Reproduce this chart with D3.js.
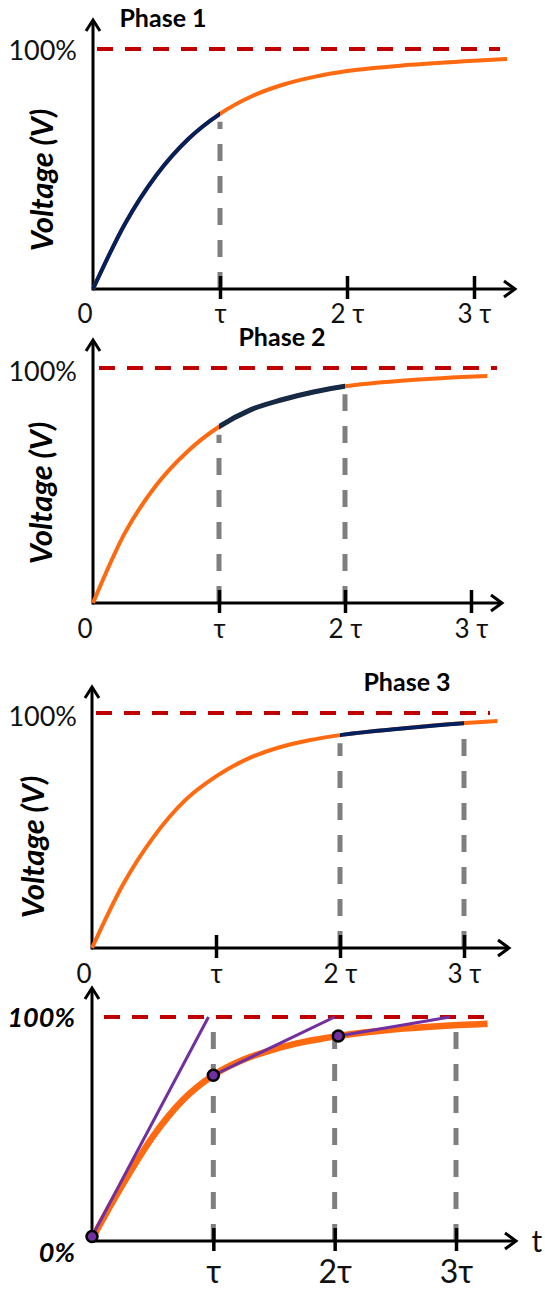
<!DOCTYPE html>
<html>
<head>
<meta charset="utf-8">
<script src="https://cdn.jsdelivr.net/npm/d3@7"></script>
<style>
  body { margin: 0; background: #fff; }
  svg { display: block; }
</style>
</head>
<body>
<div id="chart-area"></div>
<script>
// Charging curve readings: [time in tau, voltage in % of full]
const curve1 = [[0, 0], [0.25, 27], [0.5, 47.5], [0.75, 62.5], [1, 73], [1.25, 80.3], [1.5, 85.2],
  [1.75, 88.5], [2, 90.8], [2.5, 93.4], [3, 95.1], [3.26, 95.8]]
const curve2 = [[0, 0], [0.25, 29.5], [0.5, 50], [0.75, 64.5], [1, 75], [1.25, 82.2], [1.5, 86.5],
  [1.75, 89.8], [2, 92.2], [2.5, 94.8], [3.13, 96.6]]
const curve3 = [[0, 0], [0.25, 27], [0.5, 47.5], [0.75, 62.8], [1, 73], [1.25, 80.4], [1.5, 85.2],
  [1.75, 88.4], [2.03, 90.8], [2.5, 93.4], [3.01, 95.7], [3.27, 96.6]]
const curve4 = [[0, 1], [0.25, 25], [0.5, 46.5], [0.75, 63], [1, 74], [1.25, 81], [1.5, 85.6],
  [1.75, 88.9], [2.03, 91.5], [2.5, 94.5], [3.26, 97]]

// highlighted phase of each panel (start, end in tau)
const highlight1 = [0, 1]
const highlight2 = [1, 2]
const highlight3 = [2, 3]
const phaseNames = ["Phase 1", "Phase 2", "Phase 3"]

// grey drop lines (in tau)
const guides1 = [1]
const guides2 = [1, 2]
const guides3 = [2, 3]
const guides4 = [1, 2, 3]

const tickValues = [1, 2, 3]
const tickLabels = ["τ", "2 τ", "3 τ"]
const tickLabels4 = ["τ", "2τ", "3τ"]

// last panel: points on the curve and the tangents to 100%
const markers4 = [[0, 2], [1, 74], [2.03, 91.5]]
const tangents4 = [
  [[0, 2], [0.96, 100]],
  [[1, 74], [2, 100]],
  [[2.03, 91.5], [2.95, 100]]
]

const ORANGE = "#ff6a10"
const RED = "#c00000"
const GREY = "#7f7f7f"
const PURPLE = "#7030a0"
const FONT = "Lato, 'Open Sans', sans-serif"

const svg = d3.select("#chart-area").append("svg")
  .attr("width", 545)
  .attr("height", 1290)

const panels = [
  { curve: curve1, hi: highlight1, hiColor: "#002060", guides: guides1, phase: phaseNames[0],
    phaseX: 163, phaseY: 27, x0: 93, x3: 474, y0: 289, y100: 49, yTop: 20, xEnd: 515,
    red: [97, 500], vx: 45, vy: 180, labelY: 323, pctY: 60 },
  { curve: curve2, hi: highlight2, hiColor: "#172a45", guides: guides2, phase: phaseNames[1],
    phaseX: 282, phaseY: 346, x0: 93, x3: 471, y0: 603, y100: 368, yTop: 340, xEnd: 502,
    red: [99, 497], vx: 44, vy: 493, labelY: 638, pctY: 381 },
  { curve: curve3, hi: highlight3, hiColor: "#002060", guides: guides3, phase: phaseNames[2],
    phaseX: 407, phaseY: 691, x0: 92, x3: 464, y0: 948, y100: 713, yTop: 687, xEnd: 509,
    red: [96, 490], vx: 36, vy: 847, labelY: 983, pctY: 726 }
]

function valueAt(curve, t) {
  for (let i = 1; i < curve.length; i++) {
    const a = curve[i - 1], b = curve[i]
    if (t <= b[0]) return a[1] + (b[1] - a[1]) * (t - a[0]) / (b[0] - a[0])
  }
  return curve[curve.length - 1][1]
}

function drawAxes(g, p, x, y, labels, labelY, labelSize) {
  // x axis line + arrow
  g.append("line")
    .attr("x1", p.x0).attr("x2", p.xEnd - 1)
    .attr("y1", p.y0).attr("y2", p.y0)
    .attr("stroke", "#000").attr("stroke-width", 3)
  g.append("path")
    .attr("d", `M${p.xEnd - 11},${p.y0 - 8} L${p.xEnd},${p.y0} L${p.xEnd - 11},${p.y0 + 8}`)
    .attr("fill", "none").attr("stroke", "#000").attr("stroke-width", 3)
  // y axis line + arrow
  g.append("line")
    .attr("x1", p.x0).attr("x2", p.x0)
    .attr("y1", p.y0 + 1.5).attr("y2", p.yTop + 1)
    .attr("stroke", "#000").attr("stroke-width", 3)
  g.append("path")
    .attr("d", `M${p.x0 - 7},${p.yTop + 11} L${p.x0},${p.yTop} L${p.x0 + 7},${p.yTop + 11}`)
    .attr("fill", "none").attr("stroke", "#000").attr("stroke-width", 3)

  const axis = d3.axisBottom(x)
    .tickValues(tickValues)
    .tickFormat((d, i) => labels[i])
    .tickSize(0)
  g.append("g")
    .attr("transform", `translate(0, ${p.y0})`)
    .call(axis)
    .call(a => a.select(".domain").remove())
    .call(a => a.selectAll(".tick line")
      .attr("y1", -13).attr("y2", 10)
      .attr("stroke", "#000").attr("stroke-width", 3.5))
    .call(a => a.selectAll(".tick text")
      .attr("y", labelY - p.y0).attr("dy", 0)
      .attr("fill", "#111")
      .attr("font-family", FONT)
      .attr("font-size", labelSize))
}

function drawGuides(g, guides, x, y, top) {
  g.selectAll(null)
    .data(guides)
    .enter().append("line")
    .attr("x1", d => x(d)).attr("x2", d => x(d))
    .attr("y1", y(0))
    .attr("y2", d => top(d))
    .attr("stroke", GREY).attr("stroke-width", 5)
    .attr("stroke-dasharray", "17,15")
}

panels.forEach((p, k) => {
  const g = svg.append("g")
  const x = d3.scaleLinear().domain([0, 3]).range([p.x0, p.x3])
  const y = d3.scaleLinear().domain([0, 100]).range([p.y0, p.y100])
  const line = d3.line()
    .x(d => x(d[0]))
    .y(d => y(d[1]))
    .curve(d3.curveMonotoneX)

  drawGuides(g, p.guides, x, y, d => y(valueAt(p.curve, d)) + 8)
  drawAxes(g, p, x, y, tickLabels, p.labelY, 26)

  // 0 label on the x axis
  g.append("text")
    .attr("x", p.x0 - 8).attr("y", p.labelY)
    .attr("text-anchor", "middle")
    .attr("font-family", FONT).attr("font-size", 26).attr("fill", "#111")
    .text("0")

  // 100% reference line
  g.append("line")
    .attr("x1", p.red[0]).attr("x2", p.red[1])
    .attr("y1", y(100)).attr("y2", y(100))
    .attr("stroke", RED).attr("stroke-width", 4)
    .attr("stroke-dasharray", "16,12")
  g.append("text")
    .attr("x", 77).attr("y", p.pctY)
    .attr("text-anchor", "end")
    .attr("font-family", FONT).attr("font-size", 27).attr("fill", "#111")
    .text("100%")

  // full curve, then the highlighted phase on top
  g.append("path")
    .attr("d", line(p.curve))
    .attr("fill", "none").attr("stroke", ORANGE).attr("stroke-width", 4)
  const clipId = "clip" + k
  const pad = p.hi[0] === 0 ? 6 : 0
  svg.append("clipPath").attr("id", clipId)
    .append("rect")
    .attr("x", x(p.hi[0]) - pad).attr("width", x(p.hi[1]) - x(p.hi[0]) + pad)
    .attr("y", p.yTop).attr("height", p.y0 - p.yTop + 5)
  g.append("path")
    .attr("d", line(p.curve))
    .attr("clip-path", `url(#${clipId})`)
    .attr("fill", "none").attr("stroke", p.hiColor).attr("stroke-width", k === 1 ? 5 : 4)

  // labels
  g.append("text")
    .attr("x", p.phaseX).attr("y", p.phaseY)
    .attr("text-anchor", "middle")
    .attr("font-family", FONT).attr("font-weight", "bold").attr("font-size", 25)
    .text(p.phase)
  g.append("text")
    .attr("transform", `translate(${p.vx + 8}, ${p.vy}) rotate(-90)`)
    .attr("text-anchor", "middle")
    .attr("font-family", FONT).attr("font-weight", "bold").attr("font-style", "italic")
    .attr("font-size", 31)
    .text("Voltage (V)")
})

// Last panel: tangents
const p4 = { x0: 92, x3: 456, y0: 1241, y100: 1017, yTop: 988, xEnd: 516 }
const g4 = svg.append("g")
const x4 = d3.scaleLinear().domain([0, 3]).range([p4.x0, p4.x3])
const y4 = d3.scaleLinear().domain([0, 100]).range([p4.y0, p4.y100])
const line4 = d3.line()
  .x(d => x4(d[0]))
  .y(d => y4(d[1]))
  .curve(d3.curveMonotoneX)

drawGuides(g4, guides4, x4, y4, () => y4(100))
drawAxes(g4, p4, x4, y4, tickLabels4, 1283, 32)

g4.append("line")
  .attr("x1", 104).attr("x2", 490)
  .attr("y1", y4(100)).attr("y2", y4(100))
  .attr("stroke", RED).attr("stroke-width", 4)
  .attr("stroke-dasharray", "16,12")

g4.append("path")
  .attr("d", line4(curve4))
  .attr("fill", "none").attr("stroke", ORANGE).attr("stroke-width", 6.5)

g4.selectAll(null)
  .data(tangents4)
  .enter().append("path")
  .attr("d", d => d3.line().x(e => x4(e[0])).y(e => y4(e[1]))(d))
  .attr("fill", "none").attr("stroke", PURPLE).attr("stroke-width", 3)

g4.selectAll(null)
  .data(markers4)
  .enter().append("circle")
  .attr("cx", d => x4(d[0]))
  .attr("cy", d => y4(d[1]))
  .attr("r", 5.5)
  .attr("fill", PURPLE).attr("stroke", "#000").attr("stroke-width", 2.5)

g4.append("text")
  .attr("x", 75).attr("y", 1027)
  .attr("text-anchor", "end")
  .attr("font-family", FONT).attr("font-weight", "bold").attr("font-style", "italic")
  .attr("font-size", 27)
  .text("100%")
g4.append("text")
  .attr("x", 75).attr("y", 1262)
  .attr("text-anchor", "end")
  .attr("font-family", FONT).attr("font-weight", "bold").attr("font-style", "italic")
  .attr("font-size", 27)
  .text("0%")
g4.append("text")
  .attr("x", 537).attr("y", 1252)
  .attr("text-anchor", "middle")
  .attr("font-family", FONT).attr("font-size", 30).attr("fill", "#111")
  .text("t")
</script>
</body>
</html>
